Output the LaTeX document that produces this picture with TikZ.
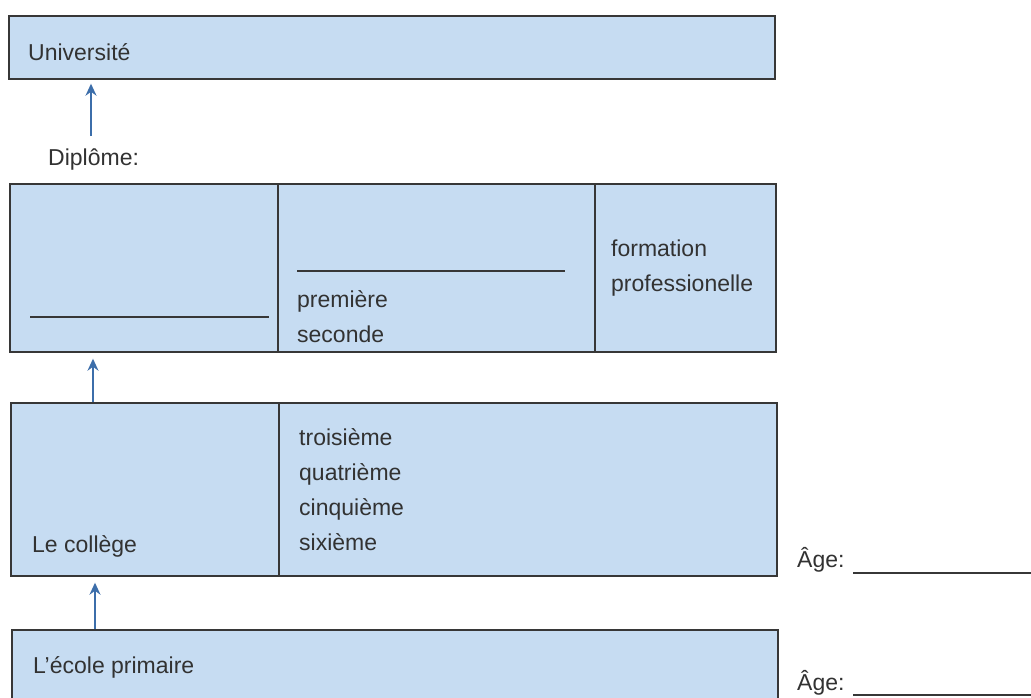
\documentclass[tikz,border=0pt]{standalone}
\usepackage{fontspec}
\setmainfont{Liberation Sans}
\usetikzlibrary{arrows.meta}
\definecolor{boxfill}{RGB}{198,220,242}
\definecolor{edge}{RGB}{55,55,55}
\definecolor{txt}{RGB}{50,50,50}
\definecolor{arrowblue}{RGB}{60,110,170}
\begin{document}
\begin{tikzpicture}[x=1pt,y=-1pt,
  box/.style={draw=edge, fill=boxfill, line width=1.4pt, inner sep=0pt, minimum width=766pt},
  lbl/.style={anchor=base west, inner sep=0pt, text=txt, font=\fontsize{23}{28}\selectfont},
  arr/.style={draw=arrowblue, line width=1.5pt, -{Stealth[length=12pt,width=11pt]}, shorten >=4pt},
  blank/.style={draw=edge, line width=1.3pt}]
\useasboundingbox (0,0) rectangle (1031,697);
\fill[white] (0,0) rectangle (1031,697);
\clip (0,0) rectangle (1031,697);
% boxes
\node[box, minimum height=63pt]  (univ)     at (392,47.5) {};
\node[box, minimum height=168pt] (lycee)    at (393,268) {};
\node[box, minimum height=173pt] (college)  at (394,489.5) {};
\node[box, minimum height=80pt]  (primaire) at (395,670) {};
% dividers
\coordinate (dv1) at (278,0);
\coordinate (dv2) at (595,0);
\coordinate (dv3) at (279,0);
\draw[blank] (lycee.north -| dv1) -- (lycee.south -| dv1);
\draw[blank] (lycee.north -| dv2) -- (lycee.south -| dv2);
\draw[blank] (college.north -| dv3) -- (college.south -| dv3);
% blanks inside boxes
\draw[blank] (30,317) -- (269,317);
\draw[blank] (297,271) -- (565,271);
% arrows
\coordinate (a1) at (91,136);
\coordinate (a2) at (93,0);
\coordinate (a3) at (95,0);
\draw[arr] (a1) -- (univ.south -| a1);
\draw[arr, shorten >=6pt] (college.north -| a2) -- (lycee.south -| a2);
\draw[arr, shorten >=6pt] (primaire.north -| a3) -- (college.south -| a3);
% labels
\node[lbl] (tuniv) at (28,60) {Université};
\node[lbl] (tdipl) at (48,165) {Diplôme:};
\node[lbl] (tprem) at (297,307) {première};
\node[lbl] (tsec)  at (297,342) {seconde};
\node[lbl] (tform) at (611,256) {formation};
\node[lbl] (tprof) at (611,291) {professionelle};
\node[lbl] (ttroi) at (299,445) {troisième};
\node[lbl] (tquat) at (299,480) {quatrième};
\node[lbl] (tcinq) at (299,515) {cinquième};
\node[lbl] (tsix)  at (299,550) {sixième};
\node[lbl] (tcoll) at (32,552) {Le collège};
\node[lbl] (tprim) at (33,673) {L’école primaire};
\node[lbl] (tage1) at (797,567) {Âge:};
\node[lbl] (tage2) at (797,690) {Âge:};
\draw[blank] (853,573) -- (1031,573);
\draw[blank] (853,695) -- (1031,695);
\end{tikzpicture}
\end{document}
